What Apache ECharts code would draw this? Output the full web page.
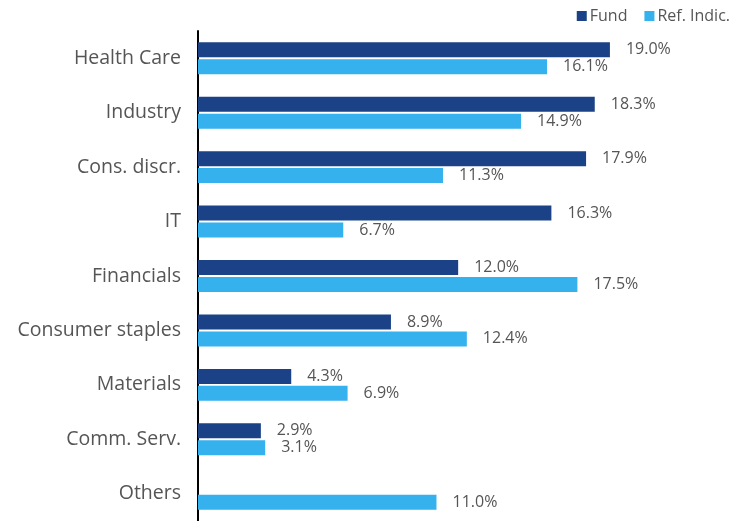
<!DOCTYPE html>
<html>
<head>
<meta charset="utf-8">
<script src="https://cdn.jsdelivr.net/npm/echarts@6/dist/echarts.min.js"></script>
<style>html,body{margin:0;padding:0;background:#fff}#c{width:749px;height:521px}</style>
</head>
<body>
<div id="c"></div>
<script>
var categories = ['Health Care','Industry','Cons. discr.','IT','Financials','Consumer staples','Materials','Comm. Serv.','Others'];
var fund = [19.0, 18.3, 17.9, 16.3, 12.0, 8.9, 4.3, 2.9, null];
var refIndic = [16.1, 14.9, 11.3, 6.7, 17.5, 12.4, 6.9, 3.1, 11.0];
var seriesNames = ['Fund', 'Ref. Indic.'];

var font = 'Open Sans';
var chart = echarts.init(document.getElementById('c'));
var lbl = {
  show: true, position: 'right', distance: 16,
  color: '#555', fontSize: 16, fontFamily: font,
  formatter: function (p) { return p.value == null ? '' : p.value.toFixed(1) + '%'; }
};
chart.setOption({
  animation: false,
  legend: {
    top: 3, right: 14, itemWidth: 10, itemHeight: 10, itemGap: 17,
    icon: 'rect',
    textStyle: { color: '#555', fontSize: 16, fontFamily: font, padding: [0,0,0,-2] },
    data: seriesNames
  },
  grid: { left: 198, right: 9, top: 31, bottom: 0, containLabel: false },
  xAxis: { type: 'value', min: 0, max: 25, show: false },
  yAxis: {
    type: 'category', inverse: true, data: categories,
    axisLine: { show: true, lineStyle: { color: '#000', width: 2 } },
    axisTick: { show: false },
    axisLabel: { color: '#555', fontSize: 19.5, fontFamily: font, margin: 17 }
  },
  series: [
    { name: seriesNames[0], type: 'bar', data: fund, barWidth: 15, barGap: '13%',
      itemStyle: { color: '#1b4286' }, label: lbl },
    { name: seriesNames[1], type: 'bar', data: refIndic, barWidth: 15, barGap: '13%',
      itemStyle: { color: '#35b1ee' }, label: lbl }
  ]
});
</script>
</body>
</html>
